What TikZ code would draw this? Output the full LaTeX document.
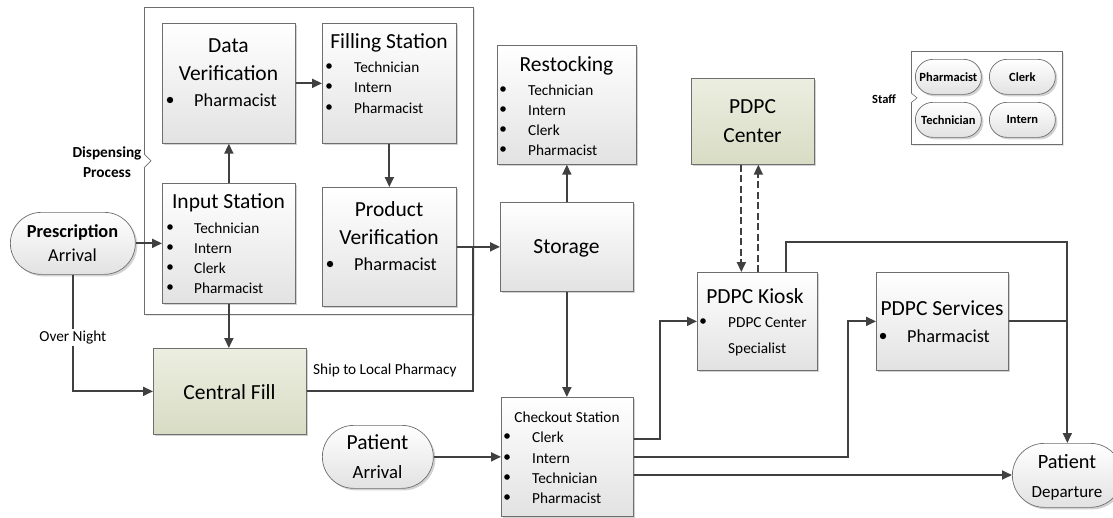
\documentclass[tikz,border=0pt]{standalone}
\usepackage{fontspec}
\setmainfont{Carlito}
\usetikzlibrary{arrows.meta,shadows,calc}

\definecolor{lncol}{HTML}{404040}
\definecolor{edgecol}{HTML}{6E6E6E}
\definecolor{boxbot}{HTML}{E2E2E2}
\definecolor{greentop}{HTML}{ECEEE0}
\definecolor{greenbot}{HTML}{D8DCC4}

\newcommand\fsHead{\fontsize{21.5}{24}\selectfont}
\newcommand\fsMid{\fontsize{18.3}{21}\selectfont}
\newcommand\fsItem{\fontsize{15.3}{18}\selectfont}
\newcommand\fsKey{\fontsize{12.5}{15}\selectfont}
% bullet dot of a list entry
\newcommand\dotat[3][2.8pt]{\fill[black] (#2,#3) circle[radius=#1];}

\begin{document}
\begin{tikzpicture}[x=1pt,y=-1pt,
  shade/.style={drop shadow={shadow xshift=2pt,shadow yshift=-2pt,fill=black!35,opacity=.5}},
  proc/.style={draw=edgecol,line width=0.7pt,top color=white,bottom color=boxbot,
    inner sep=0,anchor=north west,shade},
  hub/.style={proc,top color=greentop,bottom color=greenbot},
  term/.style={proc,rounded corners=#1},
  frame/.style={draw=edgecol,line width=0.7pt,fill=white,inner sep=0,anchor=north west,
    drop shadow={shadow xshift=1.5pt,shadow yshift=-1.5pt,fill=black!20,opacity=.5}},
  marker/.style={draw=edgecol,line width=0.6pt,fill=white},
  lbl/.style={inner sep=0,anchor=mid,yshift=-4pt},
  item/.style={inner sep=0,anchor=mid west,font=\fsItem,yshift=-4pt},
  ln/.style={draw=lncol,line width=1.8pt},
  arr/.style={ln,-{Triangle[length=10pt,width=9pt]}},
  dasharr/.style={arr,dash pattern=on 7pt off 3.5pt},
]
\useasboundingbox (0,0) rectangle (1113,517);

% ---- dispensing process group ----
\node[frame,minimum width=329,minimum height=307] (disp) at (144,7) {};
\draw[marker] ($(disp.west)+(0,-7)$) -- ++(7,7) -- ++(-7,7);
\node[lbl,font=\fsItem\bfseries] (dispA) at (107,151) {Dispensing};
\node[lbl,font=\fsItem\bfseries] (dispB) at (107,171) {Process};

\node[proc,minimum width=133,minimum height=120] (dv) at (162,23) {};
\node[lbl,font=\fsHead] (dvA) at (228.5,46) {Data};
\node[lbl,font=\fsHead] (dvB) at (228.5,74) {Verification};
\dotat[3.2pt]{170}{100}
\node[item,font=\fsMid] (dvC) at (194,100) {Pharmacist};

\node[proc,minimum width=134,minimum height=120] (fs) at (322,23) {};
\node[lbl,font=\fsHead] (fsA) at (389,42) {Filling Station};
\dotat{329}{66}\node[item] (fs1) at (354,66) {Technician};
\dotat{329}{86}\node[item] (fs2) at (354,86) {Intern};
\dotat{329}{107}\node[item] (fs3) at (354,107) {Pharmacist};

\node[proc,minimum width=133,minimum height=120] (is) at (162,183) {};
\node[lbl,font=\fsHead] (isA) at (228.5,202) {Input Station};
\dotat{170}{227}\node[item] (is1) at (194,227) {Technician};
\dotat{170}{247}\node[item] (is2) at (194,247) {Intern};
\dotat{170}{267}\node[item] (is3) at (194,267) {Clerk};
\dotat{170}{287}\node[item] (is4) at (194,287) {Pharmacist};

\node[proc,minimum width=134,minimum height=119] (pv) at (322,187) {};
\node[lbl,font=\fsHead] (pvA) at (389,210) {Product};
\node[lbl,font=\fsHead] (pvB) at (389,238) {Verification};
\dotat[3.2pt]{330}{264}
\node[item,font=\fsMid] (pvC) at (354,264) {Pharmacist};

% ---- arrivals and central fill ----
\node[term=31pt,minimum width=125,minimum height=62] (pa) at (10,212) {};
\node[lbl,font=\fsMid\bfseries] (paA) at (72.5,231) {Prescription};
\node[lbl,font=\fsMid] (paB) at (72.5,255) {Arrival};

\node[hub,minimum width=153,minimum height=86] (cf) at (153,348) {};
\node[lbl,font=\fsHead] (cfA) at (229.5,393) {Central Fill};
\node[item] (ship) at (313,368) {Ship to Local Pharmacy};

% ---- storage side ----
\node[proc,minimum width=133,minimum height=89] (st) at (500,202) {};
\node[lbl,font=\fsHead] (stA) at (566.5,247) {Storage};

\node[proc,minimum width=139,minimum height=119] (rs) at (497,45) {};
\node[lbl,font=\fsHead] (rsA) at (566.5,65) {Restocking};
\dotat{503}{89}\node[item] (rs1) at (528,89) {Technician};
\dotat{503}{109}\node[item] (rs2) at (528,109) {Intern};
\dotat{503}{129}\node[item] (rs3) at (528,129) {Clerk};
\dotat{503}{149}\node[item] (rs4) at (528,149) {Pharmacist};

\node[proc,minimum width=132,minimum height=119] (co) at (501,397) {};
\node[lbl,font=\fsItem] (coA) at (567,416) {Checkout Station};
\dotat{507}{436}\node[item] (co1) at (532,436) {Clerk};
\dotat{507}{457}\node[item] (co2) at (532,457) {Intern};
\dotat{507}{477}\node[item] (co3) at (532,477) {Technician};
\dotat{507}{497}\node[item] (co4) at (532,497) {Pharmacist};

\node[term=31.5pt,minimum width=111,minimum height=63] (pat) at (322,425) {};
\node[lbl,font=\fsHead] (patA) at (377.5,443) {Patient};
\node[lbl,font=\fontsize{18.7}{21}\selectfont] (patB) at (377.5,472) {Arrival};

% ---- PDPC ----
\node[hub,minimum width=123,minimum height=86] (pc) at (691,78) {};
\node[lbl,font=\fsHead] (pcA) at (752.5,107) {PDPC};
\node[lbl,font=\fsHead] (pcB) at (752.5,136) {Center};

\node[proc,minimum width=120,minimum height=98] (ks) at (697,272) {};
\node[lbl,font=\fsHead] (ksA) at (755,297) {PDPC Kiosk};
\dotat{703}{321}\node[item] (ks1) at (728,321) {PDPC Center};
\node[item] (ks2) at (728,347) {Specialist};

\node[proc,minimum width=132,minimum height=98] (sv) at (876,272) {};
\node[lbl,font=\fsHead] (svA) at (942,309) {PDPC Services};
\dotat[3.2pt]{883}{336}
\node[item,font=\fsMid] (sv1) at (907,336) {Pharmacist};

\node[term=32pt,minimum width=110,minimum height=64] (dep) at (1012,443) {};
\node[lbl,font=\fontsize{20.3}{23}\selectfont] (depA) at (1067,462) {Patient};
\node[lbl,font=\fontsize{17}{20}\selectfont] (depB) at (1067,491) {Departure};

% ---- staff key ----
\node[frame,minimum width=151,minimum height=93] (key) at (911,51) {};
\draw[marker] ($(key.west)+(0,-5)$) -- ++(6,5) -- ++(-6,5);
\node[lbl,font=\fsKey\bfseries] (keyA) at (884,97) {Staff};
\node[term=17.5pt,minimum width=66,minimum height=35,font=\fsKey\bfseries] (kph) at (915,59) {Pharmacist};
\node[term=17.5pt,minimum width=66,minimum height=35,font=\fsKey\bfseries] (kcl) at (989,59) {Clerk};
\node[term=17.5pt,minimum width=66,minimum height=35,font=\fsKey\bfseries] (kte) at (915,102) {Technician};
\node[term=17.5pt,minimum width=66,minimum height=35,font=\fsKey\bfseries] (kin) at (989,102) {Intern};

% ---- connectors ----
\draw[arr] (pa.east) -- (pa.east -| is.west);
\draw[arr] (is.north) -- (is.north |- dv.south);
\draw[arr] (dv.east) -- (dv.east -| fs.west);
\draw[arr] (fs.south) -- (fs.south |- pv.north);
\draw[arr] (pv.east) -- (pv.east -| st.west);
\coordinate (shipjoin) at ($(disp.east |- pv.east)+(-0.5,0)$);
\draw[ln,line join=miter] (cf.east) -| (shipjoin);
\draw[arr] (is.south) -- (is.south |- cf.north);
\draw[arr] (pa.south) |- (cf.west)
  node[pos=0.27,fill=white,inner xsep=1pt,inner ysep=2pt,font=\fsItem] (night) {Over Night};

\draw[arr] (st.north) -- (st.north |- rs.south);
\draw[arr] (st.south) -- (st.south |- co.north);
\draw[arr] (pat.east) -- (pat.east -| co.west);

\draw[dasharr] ($(pc.south)+(-11.5,0)$) -- ($(ks.north)+(-16,0)$);
\draw[dasharr] ($(ks.north)+(1,0)$) -- ($(pc.south)+(5.5,0)$);

\draw[arr] ($(ks.north)+(29,0)$) |- ($(dep.north)+(0,-201)$) -- (dep.north);
\draw[ln] (sv.east) -- (sv.east -| dep.north);

\coordinate (coKiosk) at ($(co.north east)+(0,42)$);
\coordinate (coServ) at ($(co.north east)+(0,60)$);
\coordinate (coLeave) at ($(co.north east)+(0,78)$);
\draw[arr] (coKiosk) -| ($(ks.west)+(-37,0)$) -- (ks.west);
\draw[arr] (coServ) -| ($(sv.west)+(-28,0)$) -- (sv.west);
\draw[arr] (coLeave) -- (coLeave -| dep.west);
\end{tikzpicture}
\end{document}
